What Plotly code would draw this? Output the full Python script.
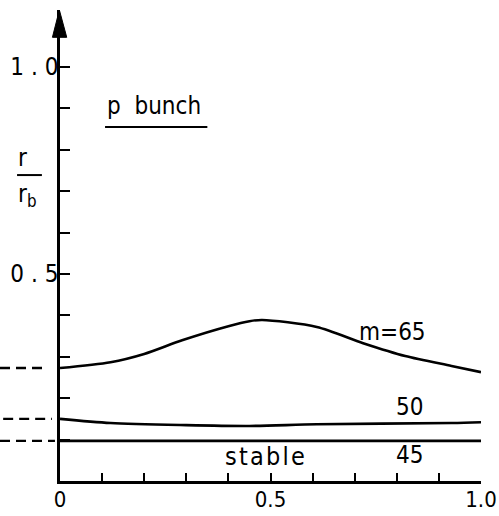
import plotly.graph_objects as go

# ---- data ----
x_m65 = [0, 0.12, 0.20, 0.29, 0.40, 0.45, 0.48, 0.61, 0.72, 0.82, 0.93, 1.0]
y_m65 = [0.273, 0.287, 0.307, 0.340, 0.374, 0.386, 0.389, 0.372, 0.333, 0.302, 0.278, 0.263]

x_m50 = [0, 0.12, 0.30, 0.45, 0.61, 0.93, 1.0]
y_m50 = [0.150, 0.140, 0.135, 0.133, 0.137, 0.140, 0.142]

x_m45 = [0, 1.0]
y_m45 = [0.097, 0.097]

x_tickvals = [0, 0.1, 0.2, 0.3, 0.4, 0.5, 0.6, 0.7, 0.8, 0.9, 1.0]
x_ticktext = ["0", "", "", "", "", "0.5", "", "", "", "", "1.0"]
y_tickvals = [0.1, 0.2, 0.3, 0.4, 0.5, 0.6, 0.7, 0.8, 0.9, 1.0]
y_ticktext = ["", "", "", "", "0 . 5", "", "", "", "", "1 . 0"]

FONT = "DejaVu Sans Condensed"
LW = 2.6
FS = 24

fig = go.Figure()
for xs, ys in [(x_m65, y_m65), (x_m50, y_m50), (x_m45, y_m45)]:
    fig.add_trace(go.Scatter(x=xs, y=ys, mode="lines",
                             line=dict(color="black", width=LW, shape="spline", smoothing=0.8),
                             showlegend=False, hoverinfo="skip"))

shapes = []
# dashed continuation lines to the left of the y axis
for y0, xl, xr in [(y_m65[0], -0.1425, -0.0285), (y_m50[0], -0.135, -0.019), (y_m45[0], -0.1425, -0.012)]:
    shapes.append(dict(type="line", xref="paper", yref="y", x0=xl, x1=xr, y0=y0, y1=y0,
                       line=dict(color="black", width=2.4, dash="10px,6px")))
# arrow head on y axis
shapes.append(dict(type="path", xref="paper", yref="paper",
                   path="M -0.0015,1.0 L -0.018,0.942 L 0.016,0.942 Z",
                   fillcolor="black", line=dict(color="black", width=1)))
# underline of "p bunch"
shapes.append(dict(type="line", xref="paper", yref="y", x0=0.107, x1=0.35, y0=0.855, y1=0.855,
                   line=dict(color="black", width=2)))
# fraction bar r / r_b
shapes.append(dict(type="line", xref="paper", yref="y", x0=-0.102, x1=-0.043, y0=0.739, y1=0.739,
                   line=dict(color="black", width=2)))

anns = []
def ann(text, x, y, xref="x", size=FS):
    anns.append(dict(text=text, x=x, y=y, xref=xref, yref="y", showarrow=False,
                     font=dict(family=FONT, size=size, color="black"),
                     xanchor="center", yanchor="middle"))

ann("p  bunch", 0.223, 0.905)
ann("m=65", 0.789, 0.36)
ann("50", 0.829, 0.178)
ann("45", 0.829, 0.063)
ann("s t a b l e".replace(" ", "\u200a"), 0.487, 0.058, size=FS + 1)
ann("r", -0.09, 0.78, xref="paper")
ann("r<sub>b</sub>", -0.078, 0.69, xref="paper")

fig.update_layout(
    width=499, height=516,
    margin=dict(l=60, r=18, t=10, b=35, autoexpand=False),
    plot_bgcolor="white", paper_bgcolor="white",
    shapes=shapes, annotations=anns,
    font=dict(family=FONT, size=FS, color="black"),
    xaxis=dict(range=[0, 1.0], showgrid=False, zeroline=False, showline=True,
               linecolor="black", linewidth=LW, ticks="inside", ticklen=8, tickwidth=2,
               tickcolor="black", tickvals=x_tickvals, ticktext=x_ticktext, automargin=False,
               tickfont=dict(family=FONT, size=22), ticklabelstandoff=-3),
    yaxis=dict(range=[0, 1.1377], showgrid=False, zeroline=False, showline=True,
               linecolor="black", linewidth=LW, ticks="inside", ticklen=10, tickwidth=2,
               tickcolor="black", tickvals=y_tickvals, ticktext=y_ticktext, automargin=False,
               tickfont=dict(family=FONT, size=FS), ticklabelstandoff=-6),
)

fig.write_html("out.html")
